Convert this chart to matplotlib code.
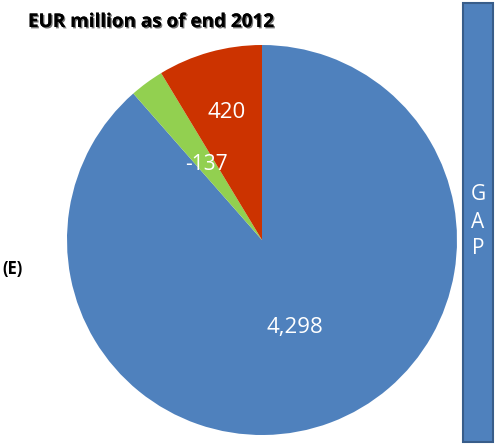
import numpy as np
import matplotlib
matplotlib.use("Agg")
import matplotlib.pyplot as plt
import matplotlib.patheffects as pe
from matplotlib.patches import Rectangle

labels = ["4,298", "-137", "420"]
values = [4298, 137, 420]
colors = ["#4F81BD", "#92D050", "#CC3300"]
label_dist = [0.48, 0.48, 0.68]
label_size = [16, 15, 16]

W, H = 495, 445
fig = plt.figure(figsize=(W / 100, H / 100), dpi=100)
plt.rcParams['font.family'] = ['Open Sans', 'DejaVu Sans']

cx, cy, r = 262, 240, 195
ax = fig.add_axes([(cx - r) / W, (H - cy - r) / H, 2 * r / W, 2 * r / H])
wedges, _ = ax.pie(values, colors=colors, startangle=90, counterclock=False,
                   radius=1, wedgeprops=dict(linewidth=0))
for w, lab, d, s in zip(wedges, labels, label_dist, label_size):
    mid = np.deg2rad((w.theta1 + w.theta2) / 2)
    ax.text(d * np.cos(mid), d * np.sin(mid), lab, color="white",
            fontsize=s, ha="center", va="center")
ax.set_xlim(-1, 1)
ax.set_ylim(-1, 1)
ax.set_aspect("equal")
ax.axis("off")

fig.text(28 / W, 1 - 22 / H, "EUR million as of end 2012", fontsize=13.6,
         fontweight="bold", ha="left", va="center", color="black",
         path_effects=[pe.withSimplePatchShadow(offset=(1, -1), shadow_rgbFace="#555555", alpha=0.8), pe.Normal()])
fig.text(2 / W, 1 - 269 / H, "(E)", fontsize=12, fontweight="bold",
         ha="left", va="center", color="black")

rect = Rectangle((463 / W, 3 / H), 30 / W, 439 / H, transform=fig.transFigure,
                 facecolor="#4F81BD", edgecolor="#385D8A", linewidth=1.5)
fig.patches.append(rect)
for i, ch in enumerate("GAP"):
    fig.text(478 / W, 1 - (195 + i * 27) / H, ch, fontsize=15, color="white",
             ha="center", va="center")

fig.savefig("out.png", dpi=100)
